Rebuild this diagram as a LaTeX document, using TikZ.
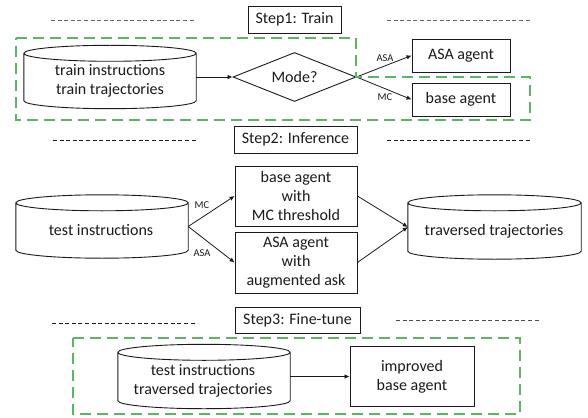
\documentclass[tikz,border=0pt]{standalone}
\usepackage{fontspec}
\setmainfont{Carlito}
\usetikzlibrary{shapes.geometric,arrows.meta,calc}
\definecolor{ink}{HTML}{1A1A1A}
\definecolor{greenbox}{HTML}{5CB560}
\tikzset{
  base/.style={draw=ink,line width=0.9pt,inner sep=0pt,align=center,font=\fontsize{16}{19.3}\selectfont,text=ink},
  cyl/.style={rectangle,inner sep=0pt,minimum width=172pt,minimum height=63pt},
  lbl/.style={inner sep=0pt,align=center,font=\fontsize{16}{19.3}\selectfont,text=ink},
  box/.style={base,rectangle},
  conn/.style={draw=ink,line width=0.8pt,-{Latex[length=5pt,width=4.5pt]}},
  small/.style={inner sep=0pt,font=\fontsize{10.5}{12}\selectfont,text=ink},
  rule/.style={line width=0.8pt,dash pattern=on 4pt off 2.6pt},
  greenline/.style={draw=greenbox,line width=2pt,dash pattern=on 11pt off 6pt}
}
% outline of a database drum around a named rectangular node
\newcommand{\drumshape}[1]{%
  \path (#1.north west) coordinate (dbA) (#1.south east) coordinate (dbB);
  \draw[draw=ink,line width=0.9pt]
    let \p1=(dbA), \p2=(dbB), \n1={(\x2-\x1)/2} in
    (\x1,\y1-8pt) arc[start angle=180,end angle=0,x radius=\n1,y radius=8pt]
    -- (\x2,\y2+8pt) arc[start angle=0,end angle=-180,x radius=\n1,y radius=8pt]
    -- cycle
    (\x1,\y1-8pt) arc[start angle=180,end angle=360,x radius=\n1,y radius=8pt];
}
\begin{document}
\begin{tikzpicture}[x=1pt,y=-1pt]
\useasboundingbox (0,0) rectangle (588,417);
% dashed rules
\draw[rule,draw=black!60] (51,20) -- (195,20);
\draw[rule,draw=black!60] (387,20) -- (531,20);
\draw[rule,draw=ink] (53,140) -- (197,140);
\draw[rule,draw=ink] (387,140) -- (531,140);
\draw[rule,draw=ink] (52,323) -- (196,323);
\draw[rule,draw=black!70] (396,320) -- (541,320);
% step titles
\node[box,minimum width=93pt,minimum height=27pt] (s1) at (294.5,19.5) {Step1: Train};
\node[box,minimum width=123pt,minimum height=27pt] (s2) at (295.5,139.5) {Step2: Inference};
\node[box,minimum width=125pt,minimum height=26pt] (s3) at (297.5,320) {Step3: Fine-tune};
% step 1
\node[cyl] (trainDb) at (110,77) {};
\drumshape{trainDb}
\node[lbl] (trainText) at (110,81) {train instructions\\train trajectories};
\node[base,diamond,aspect=2.5,minimum width=123pt,minimum height=49pt] (mode) at (294.5,77) {};
\node[lbl] (modeText) at (294.5,77) {Mode?};
\node[box,minimum width=98pt,minimum height=33pt] (asaA) at (461,55.5) {ASA agent};
\node[box,minimum width=98pt,minimum height=33pt] (baseA) at (461,99.5) {base agent};
\draw[conn] (trainDb.east) -- (mode.west);
\draw[conn] (mode.east) -- (asaA.west);
\draw[conn] (mode.east) -- (baseA.west);
\node[small] (l1) at (385,58) {ASA};
\node[small] (l2) at (385,97) {MC};
% step 2
\node[cyl] (testDb) at (102,226.5) {};
\drumshape{testDb}
\node[lbl] (testText) at (101,230.5) {test instructions};
\node[box,minimum width=122pt,minimum height=60pt] (mcBox) at (296,196) {base agent\\with\\MC threshold};
\node[box,minimum width=122pt,minimum height=61pt] (askBox) at (296,262.5) {ASA agent\\with\\augmented ask};
\node[cyl,minimum width=173pt,minimum height=64pt] (travDb) at (494.5,227) {};
\drumshape{travDb}
\node[lbl] (travText) at (494,231) {traversed trajectories};
\draw[conn] (testDb.east) -- (mcBox.west);
\draw[conn] (testDb.east) -- (askBox.west);
\draw[conn] (mcBox.east) -- (travDb.west);
\draw[conn] (askBox.east) -- (travDb.west);
\node[small] (l3) at (202,205) {MC};
\node[small] (l4) at (202,253) {ASA};
% step 3
\node[cyl,minimum height=64pt] (fineDb) at (204,376.5) {};
\drumshape{fineDb}
\node[lbl] (fineText) at (203,380.5) {test instructions\\traversed trajectories};
\node[box,minimum width=124pt,minimum height=60pt] (improved) at (412,376.5) {improved\\base agent};
\draw[conn] (fineDb.east) -- (improved.west);
% green outlines
\draw[greenline] (16,38) -- (356,38) -- (356,77) -- (530,77) -- (530,120) -- (16,120) -- cycle;
\draw[greenline] (73,338) -- (520,338) -- (520,414) -- (73,414) -- cycle;
\end{tikzpicture}
\end{document}
